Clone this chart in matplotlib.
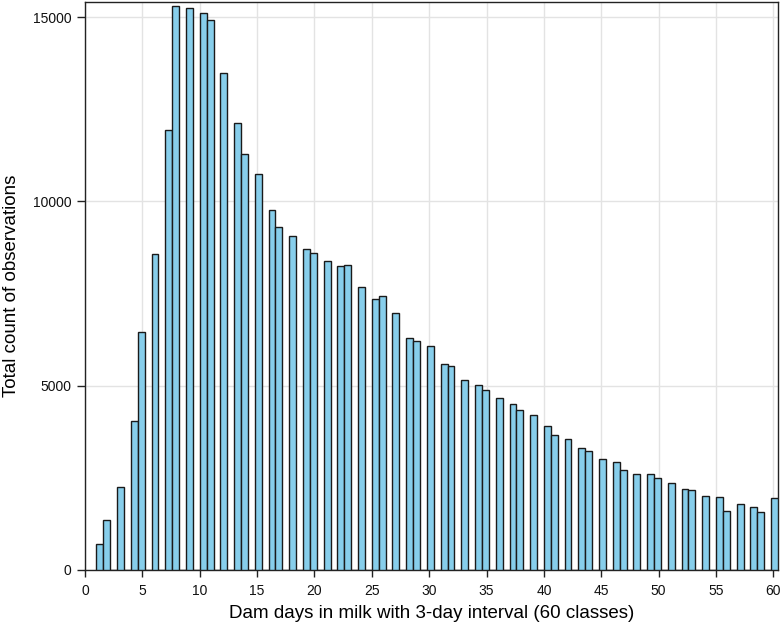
import numpy as np
import matplotlib
matplotlib.use("Agg")
import matplotlib.pyplot as plt

plt.rcParams['font.family'] = ['Liberation Sans', 'DejaVu Sans']

# Class (1..60) of dam days in milk, and total count of observations per class
days = np.arange(1, 61)
counts = [
    700, 1350, 2260, 4040, 6450, 8565, 11930, 15310, 15247, 15120,
    14921, 13475, 12136, 11295, 10745, 9775, 9297, 9061, 8709, 8600,
    8370, 8248, 8275, 7678, 7352, 7425, 6972, 6294, 6204, 6068,
    5580, 5543, 5146, 5019, 4874, 4675, 4504, 4332, 4196, 3907,
    3660, 3558, 3301, 3238, 3002, 2939, 2704, 2604, 2604, 2496,
    2360, 2198, 2179, 2016, 1989, 1610, 1791, 1700, 1564, 1945,
]
x_ticks = [0, 5, 10, 15, 20, 25, 30, 35, 40, 45, 50, 55, 60]
y_ticks = [0, 5000, 10000, 15000]

fig = plt.figure(figsize=(7.8, 6.31), dpi=100)
ax = fig.add_axes([0.109, 0.0967, 0.8884, 0.9001])

edges = np.round(1 + 0.6 * np.arange(101), 6)
ax.hist(days, bins=edges, weights=counts, color='#87CEEB',
        edgecolor='#1a1a1a', linewidth=1.0, zorder=3)

ax.set_xlim(0, 60.4)
ax.set_ylim(0, 15410)
ax.set_xticks(x_ticks)
ax.set_yticks(y_ticks)
ax.grid(True, color='#e3e3e3', linewidth=1.0, zorder=0)
ax.set_axisbelow(True)
for s in ax.spines.values():
    s.set_color('#222222')
    s.set_linewidth(1.0)
ax.tick_params(axis='both', direction='out', width=1,
               color='#222222', labelsize=10, labelcolor='#111111')
ax.tick_params(axis='x', length=5, pad=5)
ax.tick_params(axis='y', length=6, pad=4)
ax.set_xlabel('Dam days in milk with 3-day interval (60 classes)',
              fontsize=13.5, labelpad=5)
ax.set_ylabel('Total count of observations', fontsize=13.5, labelpad=9)

fig.savefig('out.png', dpi=100)
